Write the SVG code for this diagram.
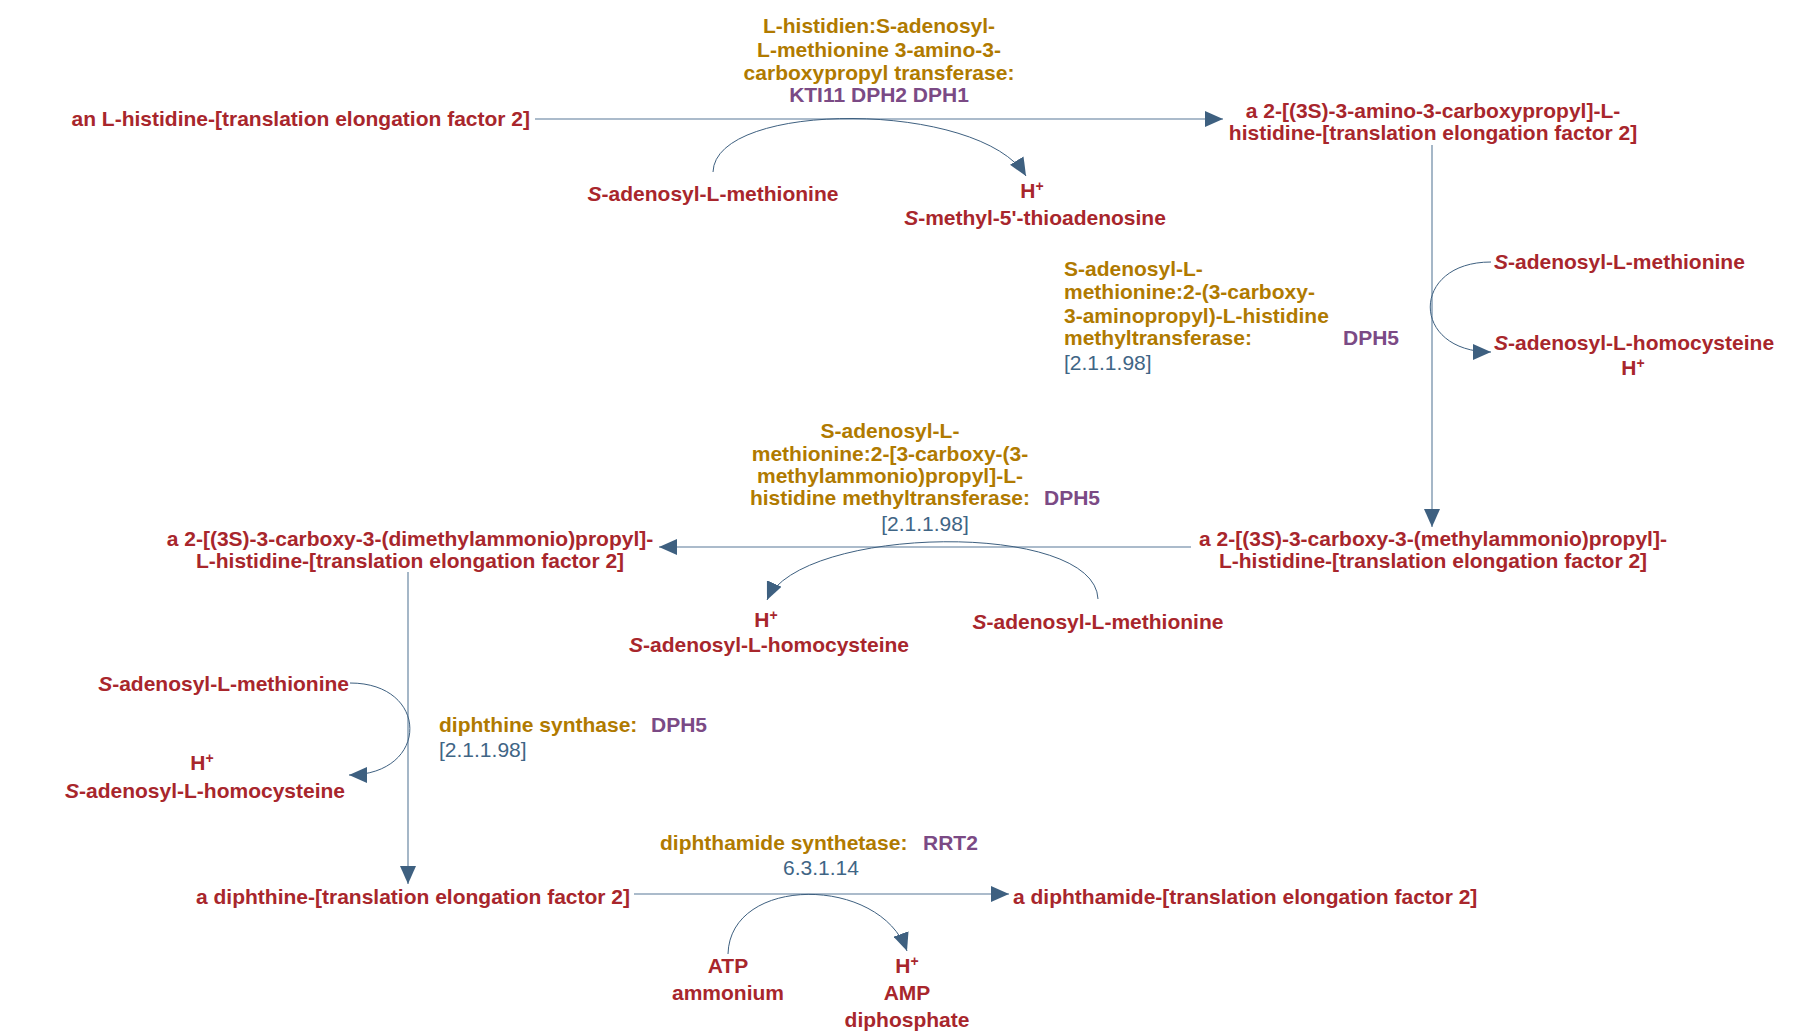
<svg xmlns="http://www.w3.org/2000/svg" width="1804" height="1036" viewBox="0 0 1804 1036">
<style>
text{font-family:"Liberation Sans",Arial,sans-serif;font-size:21px;font-weight:bold}
.c{fill:#a8262c}.e{fill:#b07a00}.g{fill:#7b4a85}.n{fill:#3f6585;font-weight:normal}
.m{text-anchor:middle}.r{text-anchor:end}
.sup{font-size:14px}
.main{fill:none;stroke:#8fa5ba;stroke-width:1.6}
.side{fill:none;stroke:#3e6080;stroke-width:1}
</style>
<defs>
<marker id="a" markerUnits="userSpaceOnUse" markerWidth="20" markerHeight="16" refX="18" refY="8" orient="auto"><path d="M0,0 L18,8 L0,16 Z" fill="#3e6080"/></marker>
</defs>
<g id="connectors">
<path class="main" d="M535,119 H1223" marker-end="url(#a)"/>
<path class="side" d="M713,172 C715,100 980,100 1026,176" marker-end="url(#a)"/>
<path class="main" d="M1432,145 V527" marker-end="url(#a)"/>
<path class="side" d="M1491,262 C1410,262 1410,352 1491,352" marker-end="url(#a)"/>
<path class="main" d="M1191,547 H659" marker-end="url(#a)"/>
<path class="side" d="M1098,599 C1095,520 800,525 767,600" marker-end="url(#a)"/>
<path class="main" d="M408,572 V884" marker-end="url(#a)"/>
<path class="side" d="M350,683 C430,683 430,775 349,775" marker-end="url(#a)"/>
<path class="main" d="M634,894 H1009" marker-end="url(#a)"/>
<path class="side" d="M728,954 C730,875 880,875 907,951" marker-end="url(#a)"/>
</g>
<g id="n1"><text class="c r" x="530" y="126">an L-histidine-[translation elongation factor 2]</text></g>
<g id="e1"><text class="e m" x="879" y="33">L-histidien:S-adenosyl-</text><text class="e m" x="879" y="57">L-methionine 3-amino-3-</text><text class="e m" x="879" y="80">carboxypropyl transferase:</text><text class="g m" x="879" y="102">KTI11  DPH2  DPH1</text></g>
<g id="n2"><text class="c m" x="1433" y="118">a 2-[(3S)-3-amino-3-carboxypropyl]-L-</text><text class="c m" x="1433" y="140">histidine-[translation elongation factor 2]</text></g>
<g id="s1"><text class="c m" x="713" y="201"><tspan font-style="italic">S</tspan>-adenosyl-L-methionine</text></g>
<g id="s2"><text class="c m" x="1032" y="198">H<tspan dy="-7" class="sup">+</tspan></text><text class="c m" x="1035" y="225"><tspan font-style="italic">S</tspan>-methyl-5'-thioadenosine</text></g>
<g id="e2"><text class="e" x="1064" y="276">S-adenosyl-L-</text><text class="e" x="1064" y="299">methionine:2-(3-carboxy-</text><text class="e" x="1064" y="323">3-aminopropyl)-L-histidine</text><text class="e" x="1064" y="345">methyltransferase:</text><text class="g" x="1343" y="345">DPH5</text><text class="n" x="1064" y="370">[2.1.1.98]</text></g>
<g id="s3"><text class="c" x="1494" y="269"><tspan font-style="italic">S</tspan>-adenosyl-L-methionine</text></g>
<g id="s4"><text class="c" x="1494" y="350"><tspan font-style="italic">S</tspan>-adenosyl-L-homocysteine</text><text class="c m" x="1633" y="375">H<tspan dy="-7" class="sup">+</tspan></text></g>
<g id="n3"><text class="c m" x="1433" y="546">a 2-[(3<tspan font-style="italic">S</tspan>)-3-carboxy-3-(methylammonio)propyl]-</text><text class="c m" x="1433" y="568">L-histidine-[translation elongation factor 2]</text></g>
<g id="e3"><text class="e m" x="890" y="438">S-adenosyl-L-</text><text class="e m" x="890" y="461">methionine:2-[3-carboxy-(3-</text><text class="e m" x="890" y="483">methylammonio)propyl]-L-</text><text class="e m" x="890" y="505">histidine methyltransferase:</text><text class="g" x="1044" y="505">DPH5</text><text class="n m" x="925" y="531">[2.1.1.98]</text></g>
<g id="n4"><text class="c m" x="410" y="546">a 2-[(3S)-3-carboxy-3-(dimethylammonio)propyl]-</text><text class="c m" x="410" y="568">L-histidine-[translation elongation factor 2]</text></g>
<g id="s5"><text class="c m" x="766" y="627">H<tspan dy="-7" class="sup">+</tspan></text><text class="c m" x="769" y="652"><tspan font-style="italic">S</tspan>-adenosyl-L-homocysteine</text></g>
<g id="s6"><text class="c m" x="1098" y="629"><tspan font-style="italic">S</tspan>-adenosyl-L-methionine</text></g>
<g id="s7"><text class="c r" x="349" y="691"><tspan font-style="italic">S</tspan>-adenosyl-L-methionine</text></g>
<g id="s8"><text class="c m" x="202" y="770">H<tspan dy="-7" class="sup">+</tspan></text><text class="c m" x="205" y="798"><tspan font-style="italic">S</tspan>-adenosyl-L-homocysteine</text></g>
<g id="e4"><text class="e" x="439" y="732">diphthine synthase:</text><text class="g" x="651" y="732">DPH5</text><text class="n" x="439" y="757">[2.1.1.98]</text></g>
<g id="n5"><text class="c r" x="630" y="904">a diphthine-[translation elongation factor 2]</text></g>
<g id="n6"><text class="c" x="1013" y="904">a diphthamide-[translation elongation factor 2]</text></g>
<g id="e5"><text class="e" x="660" y="850">diphthamide synthetase:</text><text class="g" x="923" y="850">RRT2</text><text class="n m" x="821" y="875">6.3.1.14</text></g>
<g id="s9"><text class="c m" x="728" y="973">ATP</text><text class="c m" x="728" y="1000">ammonium</text></g>
<g id="s10"><text class="c m" x="907" y="973">H<tspan dy="-7" class="sup">+</tspan></text><text class="c m" x="907" y="1000">AMP</text><text class="c m" x="907" y="1027">diphosphate</text></g>
</svg>
